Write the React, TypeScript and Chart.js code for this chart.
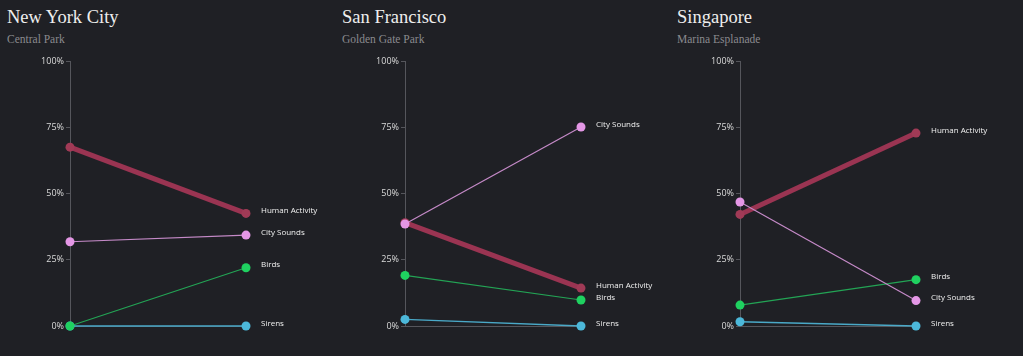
import React, { useEffect, useRef } from "react";
import { Chart, registerables } from "chart.js";

Chart.register(...registerables);

const periods = ["Start", "End"];
const seriesNames = ["Human Activity", "City Sounds", "Birds", "Sirens"];
const yTicks = [0, 25, 50, 75, 100];

const nycHuman = [67.5, 42.5];
const nycCity = [31.8, 34.3];
const nycBirds = [0, 22.0];
const nycSirens = [0, 0];

const sfHuman = [39.0, 14.3];
const sfCity = [38.5, 75.1];
const sfBirds = [19.1, 9.8];
const sfSirens = [2.5, 0];

const sgHuman = [42.1, 72.8];
const sgCity = [46.8, 9.6];
const sgBirds = [7.9, 17.5];
const sgSirens = [1.6, 0];

const cities = ["New York City", "San Francisco", "Singapore"];
const parks = ["Central Park", "Golden Gate Park", "Marina Esplanade"];

const BG = "#1f2025";
const AXIS = "#55565c";
const colors = {
  "Human Activity": { line: "#9a3452", point: "#a03a56", width: 5 },
  "City Sounds": { line: "#c58ac8", point: "#e497e6", width: 1.2 },
  Birds: { line: "#23a455", point: "#1fd160", width: 1.2 },
  Sirens: { line: "#4aa9c8", point: "#4cb8da", width: 1.5 },
};
const drawOrder: Record<string, number> = {
  "City Sounds": 0,
  Birds: 1,
  Sirens: 2,
  "Human Activity": 3,
};

const endLabels = {
  id: "endLabels",
  afterDatasetsDraw(chart: any) {
    const ctx = chart.ctx;
    const items: { y: number; x: number; text: string }[] = [];
    chart.data.datasets.forEach((ds: any, i: number) => {
      const meta = chart.getDatasetMeta(i);
      const pt = meta.data[meta.data.length - 1];
      if (pt) items.push({ x: pt.x + 15, y: pt.y - 2.5, text: ds.label });
    });
    items.sort((a, b) => a.y - b.y);
    for (let i = 1; i < items.length; i++) {
      if (items[i].y - items[i - 1].y < 10) items[i].y = items[i - 1].y + 10;
    }
    ctx.save();
    ctx.font = "8px 'Open Sans', sans-serif";
    ctx.fillStyle = "#f0f0f0";
    ctx.textAlign = "left";
    ctx.textBaseline = "middle";
    items.forEach((it) => ctx.fillText(it.text, it.x, it.y));
    ctx.restore();
  },
};

function SlopePanel({ index, values }: { index: number; values: number[][] }) {
  const ref = useRef<HTMLCanvasElement | null>(null);
  useEffect(() => {
    if (!ref.current) return;
    const chart = new Chart(ref.current, {
      type: "line",
      data: {
        labels: periods,
        datasets: seriesNames.map((name, i) => {
          const c = (colors as any)[name];
          return {
            label: name,
            data: values[i],
            borderColor: c.line,
            backgroundColor: c.point,
            pointBackgroundColor: c.point,
            pointBorderColor: c.point,
            borderWidth: c.width,
            pointRadius: 4.5,
            pointBorderWidth: 0,
            order: drawOrder[name],
            clip: false as any,
            tension: 0,
          };
        }),
      },
      options: {
        animation: false,
        responsive: false,
        devicePixelRatio: 1,
        layout: { padding: { left: 0, right: 89, top: 11, bottom: 30 } },
        plugins: { legend: { display: false }, tooltip: { enabled: false } },
        scales: {
          x: { display: false },
          y: {
            min: 0,
            max: 100,
            afterBuildTicks: (scale: any) => {
              scale.ticks = yTicks.map((v) => ({ value: v }));
            },
            afterFit: (scale: any) => {
              scale.width = 70;
            },
            border: { display: true, color: AXIS, width: 1 },
            grid: {
              color: (ctx: any) => (ctx.tick && ctx.tick.value === 0 ? AXIS : "rgba(0,0,0,0)"),
              tickColor: AXIS,
              tickLength: 4,
              drawTicks: true,
            },
            ticks: {
              color: "#dadada",
              padding: 2,
              font: { family: "'Open Sans', sans-serif", size: 9 },
              callback: (v: any) => v + "%",
            },
          },
        },
      },
      plugins: [endLabels],
    });
    return () => chart.destroy();
  }, []);
  return (
    <div style={{ position: "absolute", left: index * 335, top: 0, width: 335, height: 356 }}>
      <div
        style={{
          position: "absolute",
          left: 7,
          top: 6,
          fontFamily: "'Liberation Serif', serif",
          fontSize: 18.5,
          lineHeight: "22px",
          color: "#eeeeee",
          whiteSpace: "nowrap",
        }}
      >
        {cities[index]}
      </div>
      <div
        style={{
          position: "absolute",
          left: 7,
          top: 32,
          fontFamily: "'Liberation Serif', serif",
          fontSize: 11.5,
          lineHeight: "14px",
          color: "#8a8a8e",
          whiteSpace: "nowrap",
        }}
      >
        {parks[index]}
      </div>
      <canvas
        ref={ref}
        width={335}
        height={306}
        style={{ position: "absolute", left: 0, top: 50, width: 335, height: 306 }}
      />
    </div>
  );
}

export default function App() {
  const all = [
    [nycHuman, nycCity, nycBirds, nycSirens],
    [sfHuman, sfCity, sfBirds, sfSirens],
    [sgHuman, sgCity, sgBirds, sgSirens],
  ];
  return (
    <div style={{ position: "fixed", left: 0, top: 0, width: 1023, height: 356, background: BG, overflow: "hidden" }}>
      {all.map((v, i) => (
        <SlopePanel key={i} index={i} values={v} />
      ))}
    </div>
  );
}
